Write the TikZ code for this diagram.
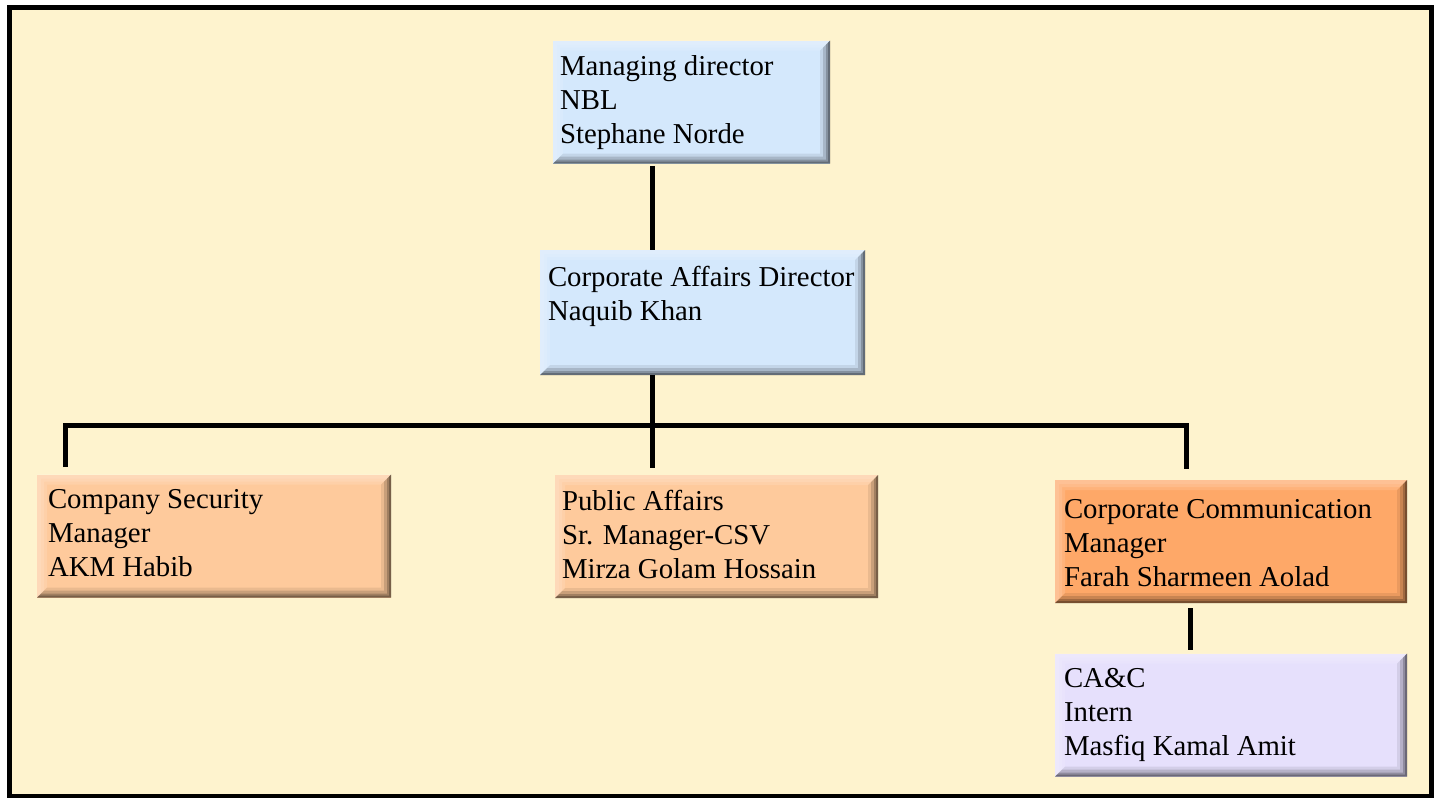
\documentclass[tikz,border=0pt]{standalone}
\usepackage{fontspec}
\setmainfont{Liberation Serif}
\usetikzlibrary{calc}
\definecolor{paper}{RGB}{254,243,206}
\definecolor{skyblue}{RGB}{212,232,252}
\definecolor{peach}{RGB}{254,202,156}
\definecolor{apricot}{RGB}{254,168,104}
\definecolor{lilac}{RGB}{230,224,252}
\newcommand{\bevelband}[3]{%
\fill [black, opacity=#2] (path picture bounding box.south west) -- (path picture bounding box.south east) -- (path picture bounding box.north east) -- ([shift={(-#1,-#1)}]path picture bounding box.north east) -- ([shift={(-#1,#1)}]path picture bounding box.south east) -- ([shift={(#1,#1)}]path picture bounding box.south west) -- cycle;
\fill [white, opacity=#3] (path picture bounding box.south west) -- (path picture bounding box.north west) -- (path picture bounding box.north east) -- ([shift={(-#1,-#1)}]path picture bounding box.north east) -- ([shift={(#1,-#1)}]path picture bounding box.north west) -- ([shift={(#1,#1)}]path picture bounding box.south west) -- cycle;}
\begin{document}
\begin{tikzpicture}[x=0.5pt,y=-0.5pt]
\tikzstyle{every node}+=[inner sep=0pt]
\tikzstyle{orgbox}=[rectangle, minimum height=61.5pt, path picture={\bevelband{5pt}{.08}{.12}\bevelband{3.5pt}{.14}{.12}\bevelband{2pt}{.2}{.1}\bevelband{1pt}{.25}{0}}]
\tikzstyle{orgtext}=[anchor=north west, align=left, font=\fontsize{14.4}{17}\selectfont]
\tikzstyle{orgline}=[black, line width=2.5pt]
\useasboundingbox (0,0) rectangle (1441,798);
\fill [paper] (9.5,7.5) rectangle (1431,796.5);
\draw [black, line width=2.5pt] (9.5,7.5) rectangle (1431,796.5);
\node [orgbox, fill=skyblue, minimum width=138.5pt] (md) at (691.5,102) {};
\node [orgbox, fill=skyblue, minimum width=162.5pt, minimum height=62.5pt] (cad) at (702.5,312.5) {};
\node [orgbox, fill=peach, minimum width=177pt] (csm) at (214,536) {};
\node [orgbox, fill=peach, minimum width=161.5pt] (pa) at (716.5,536.5) {};
\node [orgbox, fill=apricot, minimum width=176pt] (ccm) at (1231,541.5) {};
\node [orgbox, fill=lilac, minimum width=176pt] (intern) at (1231,715) {};
\node [orgtext] (mdt) at ($(md.north west)+(7,15)$) {Managing director\\NBL\\Stephane Norde};
\node [orgtext] (cadt) at ($(cad.north west)+(8,16)$) {Corporate Affairs Director\\Naquib Khan};
\node [orgtext] (csmt) at ($(csm.north west)+(11,15)$) {Company Security\\Manager\\AKM Habib};
\node [orgtext] (pat) at ($(pa.north west)+(7,15)$) {Public Affairs\\Sr. Manager-CSV\\Mirza Golam Hossain};
\node [orgtext] (ccmt) at ($(ccm.north west)+(9,19)$) {Corporate Communication\\Manager\\Farah Sharmeen Aolad};
\node [orgtext] (interntt) at ($(intern.north west)+(9,15)$) {CA\&C\\Intern\\Masfiq Kamal Amit};
\coordinate (hub) at (652,425);
\coordinate (leftend) at (65,425);
\coordinate (rightend) at (1186,425);
\draw [orgline] ($(md.south -| hub)+(0,2)$) -- (cad.north -| hub);
\draw [orgline] (cad.south -| hub) -- ($(pa.north -| hub)+(0,-7)$);
\draw [orgline] ($(csm.north -| leftend)+(0,-7)$) |- (rightend) -- ($(ccm.north -| rightend)+(0,-11)$);
\draw [orgline] ($(ccm.south)+(-41,5)$) -- ($(intern.north)+(-41,-3)$);
\end{tikzpicture}
\end{document}
